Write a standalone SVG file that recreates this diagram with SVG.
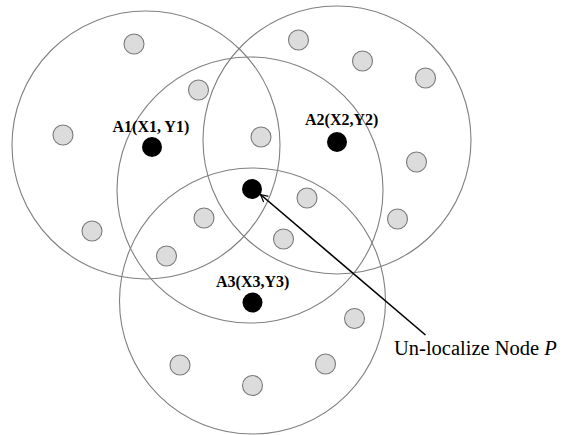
<svg xmlns="http://www.w3.org/2000/svg" width="563" height="435" viewBox="0 0 563 435">
  <style>
    .range { fill: none; stroke: #808080; stroke-width: 1.1; }
    .node { fill: #dcdcdc; stroke: #7a7a7a; stroke-width: 1.1; }
    .anchor { fill: #000; }
    .lbl { font-family: "Liberation Serif", "Times New Roman", serif; font-weight: bold; font-size: 16px; fill: #000; }
    .note { font-family: "Liberation Serif", "Times New Roman", serif; font-size: 20.5px; fill: #000; }
    .link { stroke: #000; stroke-width: 1.6; fill: none; }
  </style>
  <defs>
    <marker id="open-arrow" viewBox="0 0 10 10" refX="9" refY="5" markerWidth="9" markerHeight="9" markerUnits="userSpaceOnUse" orient="auto-start-reverse">
      <path d="M1,1 L9,5 L1,9" fill="none" stroke="#000" stroke-width="1.3"/>
    </marker>
  </defs>
  <rect width="563" height="435" fill="#fff"/>

  <!-- communication ranges of the anchors -->
  <g id="ranges">
    <circle id="range-a1" class="range" cx="146" cy="145" r="134"/>
    <circle id="range-a2" class="range" cx="337" cy="140" r="134"/>
    <circle id="range-p" class="range" cx="250" cy="190" r="133"/>
    <circle id="range-a3" class="range" cx="252.5" cy="301" r="133"/>
  </g>

  <!-- ordinary sensor nodes -->
  <g id="sensors">
    <circle class="node" cx="134" cy="44" r="10"/>
    <circle class="node" cx="63" cy="135" r="10"/>
    <circle class="node" cx="198.5" cy="90" r="10"/>
    <circle class="node" cx="261" cy="137" r="10"/>
    <circle class="node" cx="298.5" cy="40" r="10"/>
    <circle class="node" cx="362.5" cy="61" r="10"/>
    <circle class="node" cx="425.5" cy="78" r="10"/>
    <circle class="node" cx="416.5" cy="162" r="10"/>
    <circle class="node" cx="397.5" cy="219" r="10"/>
    <circle class="node" cx="307" cy="198" r="10"/>
    <circle class="node" cx="204" cy="218" r="10"/>
    <circle class="node" cx="283.5" cy="239" r="10"/>
    <circle class="node" cx="92" cy="231" r="10"/>
    <circle class="node" cx="166.5" cy="256" r="10"/>
    <circle class="node" cx="354.5" cy="318.5" r="10"/>
    <circle class="node" cx="180" cy="365" r="10"/>
    <circle class="node" cx="325.5" cy="364" r="10"/>
    <circle class="node" cx="252.5" cy="385.5" r="10"/>
  </g>

  <!-- anchors -->
  <g id="anchor-a1">
    <circle class="anchor" cx="152" cy="147" r="10"/>
    <text class="lbl" x="112.5" y="131.5">A1(X1, Y1)</text>
  </g>
  <g id="anchor-a2">
    <circle class="anchor" cx="337" cy="142" r="10"/>
    <text class="lbl" x="305" y="125">A2(X2,Y2)</text>
  </g>
  <g id="anchor-a3">
    <circle class="anchor" cx="252.5" cy="302.5" r="10"/>
    <text class="lbl" x="216" y="286.5">A3(X3,Y3)</text>
  </g>

  <!-- node to be localized -->
  <g id="node-p">
    <circle class="anchor" cx="252" cy="189" r="10"/>
  </g>

  <g id="connectors">
    <line class="link" x1="425.5" y1="335" x2="260.5" y2="194.5" marker-end="url(#open-arrow)"/>
  </g>

  <g id="caption">
    <text class="note" x="394" y="355">Un-localize Node <tspan font-style="italic">P</tspan></text>
  </g>
</svg>
